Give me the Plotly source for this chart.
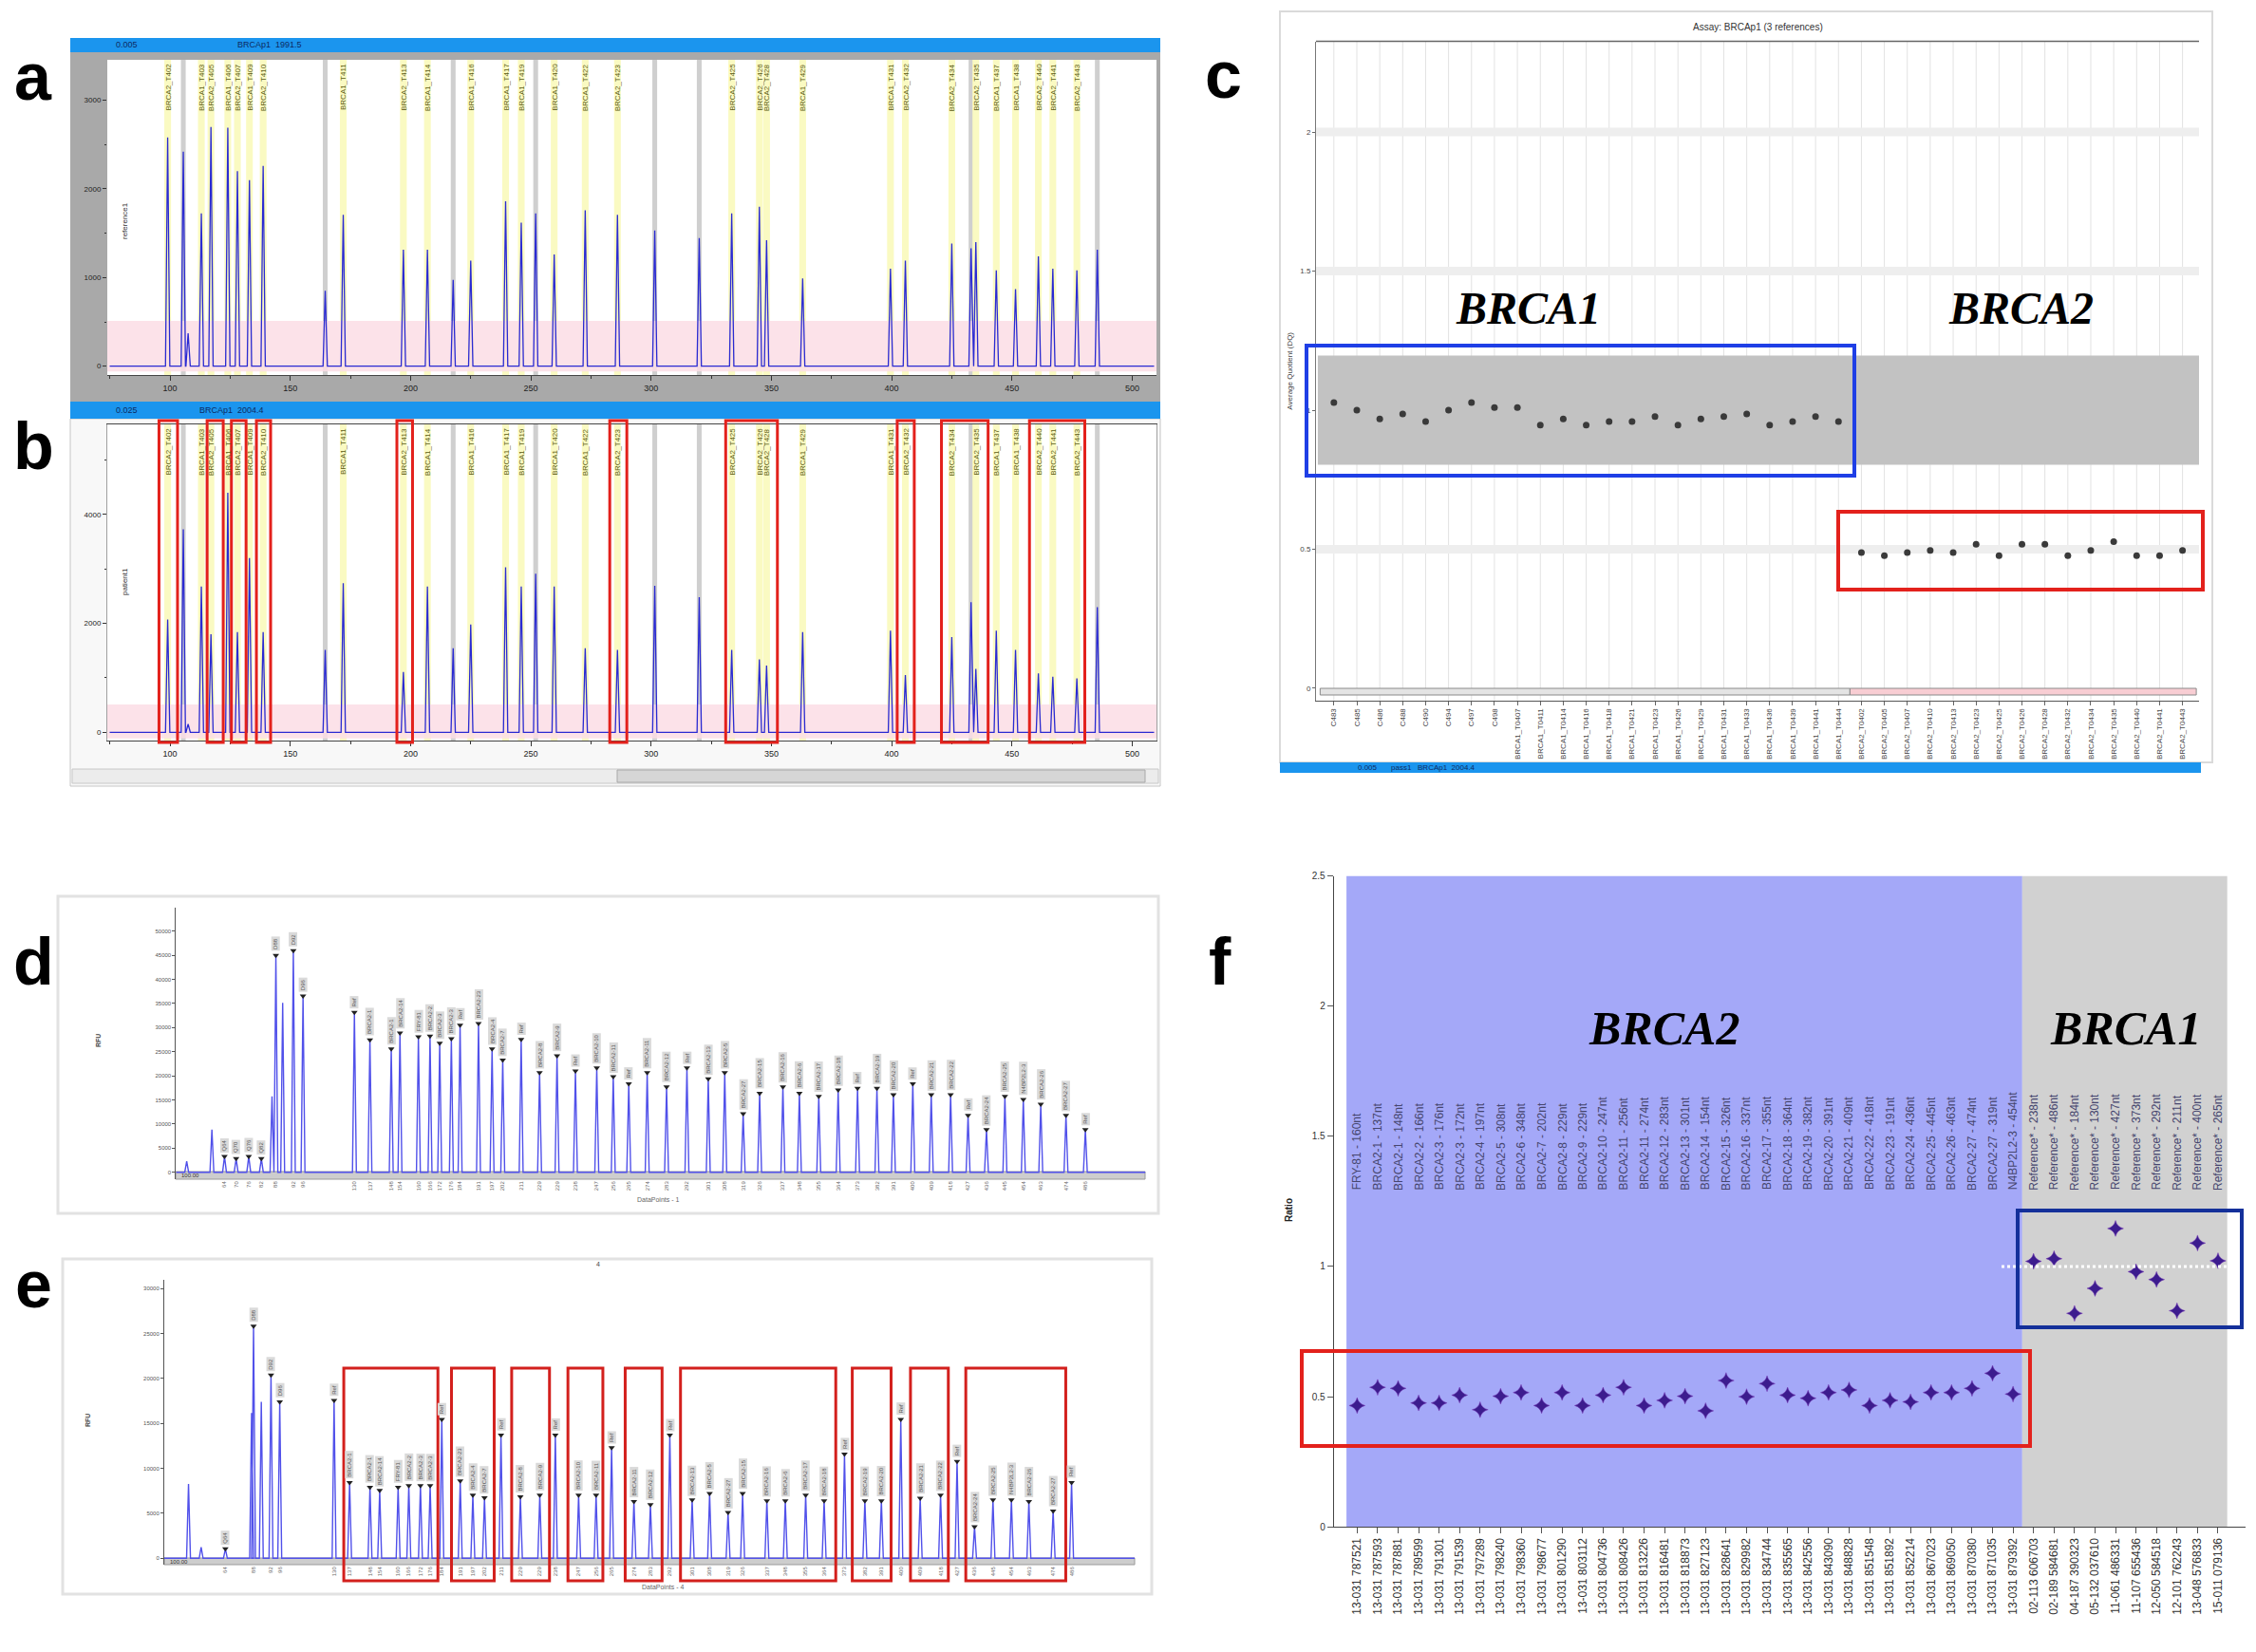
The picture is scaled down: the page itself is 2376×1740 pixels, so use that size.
import plotly.graph_objects as go

W, H = 2376, 1740
def PX(x): return x / W
def PY(y): return 1 - y / H

# ---------------- panels a / b : capillary fragment traces ----------------
AB_POS = [99.0, 105.5, 107.5, 113.0, 117.0, 124.0, 128.0, 133.0, 138.7, 164.5,
          172.0, 197.0, 207.0, 217.7, 225.0, 239.5, 246.0, 252.0, 259.7, 272.6,
          286.0, 301.5, 320.0, 333.5, 345.0, 348.0, 363.0, 399.5, 405.7, 425.0,
          433.0, 435.0, 443.5, 451.5, 461.0, 467.0, 477.0, 485.5]
A_HEIGHT = [2580, 2420, 370, 1725, 2700, 2690, 2200, 2100, 2260, 850,
            1707, 1314, 1314, 975, 1190, 1860, 1620, 1725, 1260, 1760,
            1707, 1530, 1446, 1725, 1800, 1420, 990, 1100, 1190, 1385,
            1330, 1400, 1080, 870, 1240, 1100, 1080, 1314]
B_HEIGHT = [2070, 3730, 150, 2680, 1800, 4400, 1840, 3200, 1840, 1515,
            2740, 1108, 2680, 1545, 1980, 3030, 2680, 2915, 2680, 1545,
            1515, 2690, 2480, 1515, 1340, 1225, 1840, 1865, 1050, 1750,
            2390, 1166, 1865, 1515, 1080, 1020, 990, 2300]
AB_KIND = ['bin', 'std', '', 'bin', 'bin', 'bin', 'bin', 'bin', 'bin', 'std',
           'bin', 'bin', 'bin', 'std', 'bin', 'bin', 'bin', 'std', 'bin', 'bin',
           'bin', 'std', 'std', 'bin', 'bin', 'bin', 'bin', 'bin', 'bin', 'bin',
           'std', 'bin', 'bin', 'bin', 'bin', 'bin', 'bin', 'std']
AB_LABEL = ["BRCA2_T402", "", "", "BRCA1_T403", "BRCA2_T405", "BRCA1_T406", "BRCA2_T407", "BRCA1_T409", "BRCA2_T410", "",
            "BRCA1_T411", "BRCA2_T413", "BRCA1_T414", "", "BRCA1_T416", "BRCA1_T417", "BRCA1_T419", "", "BRCA1_T420", "BRCA1_T422",
            "BRCA2_T423", "", "", "BRCA2_T425", "BRCA2_T426", "BRCA2_T428", "BRCA1_T429", "BRCA1_T431", "BRCA2_T432", "BRCA2_T434",
            "", "BRCA2_T435", "BRCA1_T437", "BRCA1_T438", "BRCA2_T440", "BRCA2_T441", "BRCA2_T443", ""]
B_BOX_LO = [95.4, 115.4, 125.5, 135.9, 194.3, 282.8, 331.0, 402.3, 420.7, 457.3]
B_BOX_HI = [103.1, 122.1, 131.6, 141.8, 200.8, 289.9, 352.5, 409.4, 440.1, 480.3]

# ---------------- panel c : dosage quotients ----------------
C_LABELS = ["C483", "C485", "C486", "C488", "C490", "C494", "C497", "C498",
            "BRCA1_T0407", "BRCA1_T0411", "BRCA1_T0414", "BRCA1_T0416", "BRCA1_T0418",
            "BRCA1_T0421", "BRCA1_T0423", "BRCA1_T0426", "BRCA1_T0429", "BRCA1_T0431",
            "BRCA1_T0433", "BRCA1_T0436", "BRCA1_T0439", "BRCA1_T0441", "BRCA1_T0444",
            "BRCA2_T0402", "BRCA2_T0405", "BRCA2_T0407", "BRCA2_T0410", "BRCA2_T0413",
            "BRCA2_T0423", "BRCA2_T0425", "BRCA2_T0426", "BRCA2_T0428", "BRCA2_T0432",
            "BRCA2_T0434", "BRCA2_T0435", "BRCA2_T0440", "BRCA2_T0441", "BRCA2_T0443"]
C_BRCA1 = [1.027, 1.0, 0.968, 0.986, 0.959, 1.0, 1.027, 1.009, 1.009, 0.946, 0.968, 0.946,
           0.959, 0.959, 0.977, 0.946, 0.968, 0.977, 0.986, 0.946, 0.959, 0.977, 0.959]
C_BRCA2 = [0.488, 0.477, 0.488, 0.496, 0.488, 0.518, 0.477, 0.518, 0.518, 0.477,
           0.496, 0.527, 0.477, 0.477, 0.496]

# ---------------- panels d / e : MLPA electropherograms ----------------
PROBE_SIZE = [130, 137, 148, 154, 160, 166, 172, 176, 184, 191, 197, 202, 211, 229, 229,
              238, 247, 256, 265, 274, 283, 292, 301, 308, 319, 326, 337, 348, 355, 364,
              373, 382, 391, 400, 409, 418, 427, 436, 445, 454, 463, 474, 486]
PROBE_NAME = ["Ref", "BRCA2-1", "BRCA2-1", "BRCA2-14", "FRY-81", "BRCA2-2", "BRCA2-3", "BRCA2-3",
              "Ref", "BRCA2-23", "BRCA2-4", "BRCA2-7", "Ref", "BRCA2-8", "BRCA2-9", "Ref",
              "BRCA2-10", "BRCA2-11", "Ref", "BRCA2-11", "BRCA2-12", "Ref", "BRCA2-13", "BRCA2-5",
              "BRCA2-27", "BRCA2-15", "BRCA2-16", "BRCA2-6", "BRCA2-17", "BRCA2-18", "Ref",
              "BRCA2-19", "BRCA2-20", "Ref", "BRCA2-21", "BRCA2-22", "Ref", "BRCA2-24",
              "BRCA2-25", "N4BP2L2-3", "BRCA2-26", "BRCA2-27", "Ref"]

D_CTRL_POS = [11, 37, 50, 62, 75, 88, 99, 103, 110, 121, 131]
D_CTRL_H = [2300, 8860, 3280, 2820, 3280, 2820, 15750, 44950, 35100, 45930, 36550]
D_CTRL_NAME = ["", "", "Q64", "Q70", "Q76", "Q82", "", "D88", "", "D92", "D96"]
D_CTRL_TICK = ["", "", "64", "70", "76", "82", "", "88", "", "92", "96"]
D_PROBE_POS = [184, 200, 222, 231, 250, 262, 272, 284, 293, 312, 326, 337, 356, 375, 393,
               412, 434, 451, 467, 486, 506, 527, 549, 566, 585, 602, 626, 643, 663, 683,
               703, 723, 740, 760, 779, 799, 817, 836, 855, 874, 892, 918, 938]
D_PROBE_H = [33140, 27430, 25590, 28870, 28080, 28215, 26770, 27690, 30510, 30840, 25590,
             23290, 27560, 20670, 24150, 21000, 21650, 19815, 18370, 20670, 17720, 21650,
             19360, 20670, 12140, 16400, 17720, 16400, 15750, 17060, 17390, 17390, 16080,
             18370, 16080, 16080, 11810, 8860, 15750, 15090, 14110, 11810, 8860]

E_CTRL_POS = [25, 38, 63, 90, 92, 100, 110, 119]
E_CTRL_H = [8258, 1230, 1054, 16164, 25828, 17394, 20381, 17394]
E_CTRL_NAME = ["", "", "Q64", "", "D88", "", "D92", "D96"]
E_CTRL_TICK = ["", "", "64", "", "88", "", "92", "96"]
E_PROBE_POS = [175, 191, 212, 222, 241, 252, 264, 274, 286, 305, 318, 330, 347, 367, 387,
               403, 427, 445, 461, 484, 501, 521, 544, 562, 581, 596, 621, 640, 661, 680,
               701, 722, 739, 759, 779, 800, 817, 835, 854, 873, 891, 916, 935]
E_PROBE_H = [17570, 8434, 7907, 7555, 7907, 8082, 8082, 8082, 15462, 8609, 7028, 6747, 13705,
             6852, 7028, 13705, 7028, 7028, 12299, 6325, 5974, 13705, 6501, 7204, 5095, 7204,
             6395, 6395, 7028, 6395, 11596, 6395, 6395, 15462, 6677, 7028, 10788, 3514, 6501,
             6501, 6325, 5271, 8434]
E_BOX_LO = [185, 296, 358, 416, 475, 532, 709, 769, 826]
E_BOX_HI = [282, 340, 397, 452, 513, 692, 749, 808, 929]

# ---------------- panel f : probe ratios ----------------
F_PROBES = ["FRY-81 - 160nt", "BRCA2-1 - 137nt", "BRCA2-1 - 148nt", "BRCA2-2 - 166nt",
            "BRCA2-3 - 176nt", "BRCA2-3 - 172nt", "BRCA2-4 - 197nt", "BRCA2-5 - 308nt",
            "BRCA2-6 - 348nt", "BRCA2-7 - 202nt", "BRCA2-8 - 229nt", "BRCA2-9 - 229nt",
            "BRCA2-10 - 247nt", "BRCA2-11 - 256nt", "BRCA2-11 - 274nt", "BRCA2-12 - 283nt",
            "BRCA2-13 - 301nt", "BRCA2-14 - 154nt", "BRCA2-15 - 326nt", "BRCA2-16 - 337nt",
            "BRCA2-17 - 355nt", "BRCA2-18 - 364nt", "BRCA2-19 - 382nt", "BRCA2-20 - 391nt",
            "BRCA2-21 - 409nt", "BRCA2-22 - 418nt", "BRCA2-23 - 191nt", "BRCA2-24 - 436nt",
            "BRCA2-25 - 445nt", "BRCA2-26 - 463nt", "BRCA2-27 - 474nt", "BRCA2-27 - 319nt",
            "N4BP2L2-3 - 454nt", "Reference* - 238nt", "Reference* - 486nt",
            "Reference* - 184nt", "Reference* - 130nt", "Reference* - 427nt",
            "Reference* - 373nt", "Reference* - 292nt", "Reference* - 211nt",
            "Reference* - 400nt", "Reference* - 265nt"]
F_SAMPLES = ["13-031 787521", "13-031 787593", "13-031 787881", "13-031 789599", "13-031 791301",
             "13-031 791539", "13-031 797289", "13-031 798240", "13-031 798360", "13-031 798677",
             "13-031 801290", "13-031 803112", "13-031 804736", "13-031 808426", "13-031 813226",
             "13-031 816481", "13-031 818873", "13-031 827123", "13-031 828641", "13-031 829982",
             "13-031 834744", "13-031 835565", "13-031 842556", "13-031 843090", "13-031 848828",
             "13-031 851548", "13-031 851892", "13-031 852214", "13-031 867023", "13-031 869050",
             "13-031 870380", "13-031 871035", "13-031 879392", "02-113 606703", "02-189 584681",
             "04-187 390323", "05-132 037610", "11-061 486331", "11-107 655436", "12-050 584518",
             "12-101 762243", "13-048 576833", "15-011 079136"]
F_BRCA2 = [0.466, 0.536, 0.532, 0.476, 0.476, 0.506, 0.450, 0.502, 0.516, 0.466, 0.516,
           0.466, 0.506, 0.536, 0.466, 0.486, 0.502, 0.446, 0.562, 0.500, 0.550, 0.506,
           0.494, 0.516, 0.526, 0.466, 0.486, 0.480, 0.516, 0.516, 0.532, 0.590, 0.510]
F_BRCA1 = [1.02, 1.03, 0.82, 0.916, 1.146, 0.98, 0.95, 0.83, 1.09, 1.022]

# ======================================================================
shapes, ann, traces = [], [], []

def prect(x0, y0, x1, y1, fill=None, line=None, lw=0, layer='below'):
    shapes.append(dict(type='rect', xref='paper', yref='paper', layer=layer,
                       x0=PX(x0), x1=PX(x1), y0=PY(y1), y1=PY(y0),
                       fillcolor=fill or 'rgba(0,0,0,0)',
                       line=dict(color=line or 'rgba(0,0,0,0)', width=lw)))

def text(x, y, s, size=10, color='#222', xref='paper', yref='paper', angle=0,
         xanchor='center', yanchor='middle', family=None, bg=None, **kw):
    d = dict(x=x, y=y, xref=xref, yref=yref, text=s, showarrow=False, textangle=angle,
             xanchor=xanchor, yanchor=yanchor,
             font=dict(size=size, color=color, family=family or 'Liberation Sans'))
    if bg:
        d['bgcolor'] = bg
    d.update(kw)
    ann.append(d)

def peaks_xy(pos, hts, hw, xmin, xmax):
    xs, ys = [xmin], [0]
    for p, h in sorted(zip(pos, hts)):
        xs += [p - hw, p, p + hw]
        ys += [0, h, 0]
    xs.append(xmax)
    ys.append(0)
    return xs, ys

# ---------------- frames (paper) ----------------
# a
prect(66, 47, 1214, 417, fill='#a9a9a9')
prect(66, 32, 1214, 47, fill='#1b95ee')
prect(105, 55, 1210, 387, fill='white')
# b
prect(66, 433, 1214, 820, fill='#f8f8f8', line='#c6c6c6', lw=1)
prect(66, 415, 1214, 433, fill='#1b95ee')
prect(105, 439, 1210, 772, fill='white')
prect(68, 802, 1212, 817, fill='#ececec', line='#c8c8c8', lw=1)
prect(642, 803, 1198, 816, fill='#d6d6d6', line='#a8a8a8', lw=1)
# c
prect(1340, 4, 2322, 795, line='#dadada', lw=2)
prect(1340, 795, 2310, 806, fill='#1b95ee')
# d, e
prect(53, 936, 1212, 1270, fill='white', line='#e2e2e2', lw=3)
prect(58, 1318, 1205, 1671, fill='white', line='#e2e2e2', lw=3)
prect(177, 1226, 1198, 1234, fill='#cdcdcd', line='#9a9a9a', lw=1)
prect(165, 1633, 1187, 1640, fill='#cdcdcd', line='#9a9a9a', lw=1)

# ---------------- panels a / b ----------------
AB_X0, AB_X1 = 73.9, 510.1
for xa, ya, hts, yr, lab_y in (('x', 'y', A_HEIGHT, (-100, 3457), 57),
                               ('x2', 'y2', B_HEIGHT, (-152, 5657), 441)):
    for p, k in zip(AB_POS, AB_KIND):
        if k == 'bin':
            shapes.append(dict(type='rect', xref=xa, yref=ya, layer='below', x0=p - 1.4, x1=p + 1.4,
                               y0=yr[0], y1=yr[1], fillcolor='#fafac2', line=dict(width=0)))
        elif k == 'std':
            shapes.append(dict(type='rect', xref=xa, yref=ya, layer='below', x0=p - 1.0, x1=p + 1.0,
                               y0=yr[0], y1=yr[1], fillcolor='#cfcfcf', line=dict(width=0)))
    shapes.append(dict(type='rect', xref=xa, yref=ya, layer='below', x0=AB_X0, x1=AB_X1,
                       y0=yr[0] + 40, y1=510, fillcolor='#fcdde5', opacity=0.85, line=dict(width=0)))
    for p, s in zip(AB_POS, AB_LABEL):
        if s:
            text(p, PY(lab_y), s, size=8, color='#5c5c12', xref=xa, yref='paper',
                 angle=-90, yanchor='top')
    xs, ys = peaks_xy(AB_POS, hts, 0.9, AB_X0 + 1, AB_X1 - 1)
    traces.append(go.Scatter(x=xs, y=ys, xaxis=xa, yaxis=ya, mode='lines',
                             line=dict(color='#2a2ad2', width=1.3), hoverinfo='skip'))

for lo, hi in zip(B_BOX_LO, B_BOX_HI):
    shapes.append(dict(type='rect', xref='x2', yref='paper', layer='above', x0=lo, x1=hi,
                       y0=PY(774), y1=PY(435), line=dict(color='#e3211c', width=3)))

text(PX(112), PY(39.5), '0.005', size=9, color='#0d2b63', xanchor='left')
text(PX(240), PY(39.5), 'BRCAp1  1991.5', size=9, color='#0d2b63', xanchor='left')
text(PX(112), PY(424), '0.025', size=9, color='#0d2b63', xanchor='left')
text(PX(200), PY(424), 'BRCAp1  2004.4', size=9, color='#0d2b63', xanchor='left')
text(PX(124), PY(225), 'reference1', size=8, color='#333', angle=-90)
text(PX(124), PY(605), 'patient1', size=8, color='#333', angle=-90)

# ---------------- panel c ----------------
C_VALS = C_BRCA1 + C_BRCA2
for i in range(len(C_LABELS)):
    shapes.append(dict(type='line', xref='x3', yref='y3', layer='below', x0=i, x1=i,
                       y0=-0.05, y1=2.4, line=dict(color='#e2e2e2', width=1)))
for yv in (2.0, 1.5, 0.5):
    shapes.append(dict(type='line', xref='x3', yref='y3', layer='below', x0=-0.78, x1=37.72,
                       y0=yv, y1=yv, line=dict(color='#eeeeee', width=9)))
shapes.append(dict(type='rect', xref='x3', yref='y3', layer='below', x0=-0.7, x1=37.72,
                   y0=0.804, y1=1.196, fillcolor='#c2c2c2', line=dict(width=0)))
shapes.append(dict(type='rect', xref='x3', yref='paper', layer='above', x0=-0.6, x1=len(C_BRCA1) - 0.5,
                   y0=PY(724), y1=PY(717), fillcolor='#e4e4e4', line=dict(color='#8a8a8a', width=1)))
shapes.append(dict(type='rect', xref='x3', yref='paper', layer='above', x0=len(C_BRCA1) - 0.5, x1=37.6,
                   y0=PY(724), y1=PY(717), fillcolor='#f8cdd3', line=dict(color='#8a8a8a', width=1)))
shapes.append(dict(type='line', xref='paper', yref='paper', x0=PX(1378), x1=PX(2308),
                   y0=PY(35.6), y1=PY(35.6), line=dict(color='#666', width=1.5)))
traces.append(go.Scatter(x=list(range(len(C_VALS))), y=C_VALS, xaxis='x3', yaxis='y3', mode='markers',
                         marker=dict(size=7, color='#3a3a3a'), hoverinfo='skip'))
prect(1368, 356, 1945, 493, line='#1f3fe6', lw=4, layer='above')
prect(1928, 531, 2312, 613, line='#e3211c', lw=4, layer='above')
text(PX(1843), PY(21), 'Assay: BRCAp1 (3 references)', size=10, color='#333')
text(PX(1601), PY(316), '<b><i>BRCA1</i></b>', size=48, color='black', family='Liberation Serif')
text(PX(2120), PY(316), '<b><i>BRCA2</i></b>', size=48, color='black', family='Liberation Serif')
text(PX(1420), PY(800.5), '0.005', size=8, color='#0d2b63', xanchor='left')
text(PX(1455), PY(800.5), 'pass1   BRCAp1  2004.4', size=8, color='#0d2b63', xanchor='left')

# ---------------- panels d / e ----------------
D_POS = D_CTRL_POS + D_PROBE_POS
D_H = D_CTRL_H + D_PROBE_H
D_NAME = D_CTRL_NAME + PROBE_NAME
D_TICK = D_CTRL_TICK + [str(s) for s in PROBE_SIZE]
E_POS = E_CTRL_POS + E_PROBE_POS
E_H = E_CTRL_H + E_PROBE_H
E_NAME = E_CTRL_NAME + PROBE_NAME
E_TICK = E_CTRL_TICK + [str(s) for s in PROBE_SIZE]

for xa, ya, pos, hts, names in (('x4', 'y4', D_POS, D_H, D_NAME), ('x5', 'y5', E_POS, E_H, E_NAME)):
    xs, ys = peaks_xy(pos, hts, 2.0, 0, 1000)
    traces.append(go.Scatter(x=xs, y=ys, xaxis=xa, yaxis=ya, mode='lines',
                             line=dict(color='#5151ea', width=1.4), hoverinfo='skip'))
    lx = [p for p, n in zip(pos, names) if n]
    ly = [h for h, n in zip(hts, names) if n]
    traces.append(go.Scatter(x=lx, y=ly, xaxis=xa, yaxis=ya, mode='markers',
                             marker=dict(symbol='triangle-down', size=6, color='#222'), hoverinfo='skip'))
    for p, h, n in zip(pos, hts, names):
        if n:
            text(p, h, n, size=6, color='#555', xref=xa, yref=ya, angle=-90, yanchor='bottom',
                 bg='#dadada', yshift=4, borderpad=1)

for lo, hi in zip(E_BOX_LO, E_BOX_HI):
    shapes.append(dict(type='rect', xref='x5', yref='paper', layer='above', x0=lo, x1=hi,
                       y0=PY(1657), y1=PY(1433), line=dict(color='#d3201d', width=3)))

text(PX(95), PY(1088), '<b>RFU</b>', size=7, color='#444', angle=-90)
text(PX(84), PY(1488), '<b>RFU</b>', size=7, color='#444', angle=-90)
text(PX(685), PY(1255), 'DataPoints - 1', size=7, color='#666')
text(PX(690), PY(1663), 'DataPoints - 4', size=7, color='#666')
text(PX(181), PY(1230), '100.00', size=6, color='#333', xanchor='left')
text(PX(169), PY(1636.5), '100.00', size=6, color='#333', xanchor='left')
text(PX(622), PY(1323), '4', size=7, color='#444')

# ---------------- panel f ----------------
F_VALS = F_BRCA2 + F_BRCA1
NB2 = len(F_BRCA2)
shapes.append(dict(type='rect', xref='x6', yref='y6', layer='below', x0=-0.52, x1=NB2 - 0.55,
                   y0=0, y1=2.5, fillcolor='#a4a8f8', line=dict(width=0)))
shapes.append(dict(type='rect', xref='x6', yref='y6', layer='below', x0=NB2 - 0.55, x1=len(F_VALS) - 0.55,
                   y0=0, y1=2.5, fillcolor='#d1d1d1', line=dict(width=0)))
shapes.append(dict(type='line', xref='paper', yref='y6', layer='above', x0=PX(2100), x1=PX(2360),
                   y0=1, y1=1, line=dict(color='white', width=3, dash='dot')))
for i, s in enumerate(F_PROBES):
    text(i, 1.286, s, size=12, color='#46466e', xref='x6', yref='y6', angle=-90, yanchor='bottom')
traces.append(go.Scatter(x=list(range(len(F_VALS))), y=F_VALS, xaxis='x6', yaxis='y6', mode='markers',
                         marker=dict(symbol='star-diamond', size=12, color='#3c1c8e',
                                     line=dict(color='#7a3fb8', width=0.5)), hoverinfo='skip'))
prect(1363, 1415, 2130, 1515, line='#e3211c', lw=4, layer='above')
prect(2117, 1267, 2353, 1390, line='#14309a', lw=4, layer='above')
text(PX(1744), PY(1075), '<b><i>BRCA2</i></b>', size=50, color='black', family='Liberation Serif')
text(PX(2230), PY(1075), '<b><i>BRCA1</i></b>', size=50, color='black', family='Liberation Serif')
text(PX(1349), PY(1267), '<b>Ratio</b>', size=10, color='#222', angle=-90)

# ---------------- panel letters ----------------
for s, x, y in (('a', 27, 73), ('b', 27, 462), ('c', 1280, 71), ('d', 27, 1005),
                ('e', 27, 1345), ('f', 1277, 1005)):
    text(PX(x), PY(y), '<b>%s</b>' % s, size=70, color='black')

# ---------------- axes ----------------
off = dict(showgrid=False, zeroline=False, automargin=False)
ab_x = dict(range=[AB_X0, AB_X1], tickmode='linear', tick0=100, dtick=50, ticks='outside',
            ticklen=5, tickcolor='#333', showline=True, linecolor='#444',
            tickfont=dict(size=9, color='#222'),
            minor=dict(dtick=25, ticks='outside', ticklen=3, tickcolor='#333'), **off)

layout = dict(
    width=W, height=H, margin=dict(l=0, r=0, t=0, b=0),
    paper_bgcolor='white', plot_bgcolor='rgba(0,0,0,0)', showlegend=False,
    font=dict(family='Liberation Sans', color='#222'),
    xaxis=dict(domain=[PX(105), PX(1210)], anchor='y', **ab_x),
    yaxis=dict(domain=[PY(387), PY(55)], anchor='x', range=[-100, 3457], tickmode='linear', tick0=0,
               dtick=1000, ticks='outside', ticklen=4, tickcolor='#333', tickfont=dict(size=8),
               tickformat='d',
               minor=dict(dtick=500, ticks='outside', ticklen=2, tickcolor='#333'), showline=False, **off),
    xaxis2=dict(domain=[PX(105), PX(1210)], anchor='y2', mirror=True, **ab_x),
    yaxis2=dict(domain=[PY(772), PY(439)], anchor='x2', range=[-152, 5657], tickmode='linear', tick0=0,
                dtick=2000, ticks='outside', ticklen=4, tickcolor='#333', tickfont=dict(size=8),
                tickformat='d',
                minor=dict(dtick=1000, ticks='outside', ticklen=2, tickcolor='#333'),
                showline=True, mirror=True, linecolor='#a0a0a0', **off),
    xaxis3=dict(domain=[PX(1378), PX(2308)], anchor='y3', range=[-0.78, 37.72], tickmode='array',
                tickvals=list(range(len(C_LABELS))), ticktext=C_LABELS, tickangle=-90,
                tickfont=dict(size=8, color='#444'), ticks='outside', ticklen=4, tickcolor='#666',
                showline=True, linecolor='#555', **off),
    yaxis3=dict(domain=[PY(730), PY(35.6)], anchor='x3', range=[-0.0444, 2.3256], tickmode='array',
                tickvals=[0, 0.5, 1, 1.5, 2], ticktext=['0', '0.5', '1', '1.5', '2'],
                tickfont=dict(size=8, color='#444'), ticks='outside', ticklen=3, tickcolor='#666',
                showline=True, linecolor='#777',
                title=dict(text='Average Quotient (DQ)', font=dict(size=8, color='#444'), standoff=6), **off),
    xaxis4=dict(domain=[PX(177.4), PX(1198.4)], anchor='y4', range=[0, 1000], tickmode='array',
                tickvals=[p for p, t in zip(D_POS, D_TICK) if t], ticktext=[t for t in D_TICK if t],
                tickangle=-90, tickfont=dict(size=6, color='#666'), ticks='', showline=False, **off),
    yaxis4=dict(domain=[PY(1234), PY(948)], anchor='x4', range=[-1437, 54860], tickmode='linear', tick0=0,
                dtick=5000, tickformat='d', ticks='outside', ticklen=3, tickcolor='#555',
                tickfont=dict(size=6, color='#555'), showline=True, linecolor='#555', **off),
    xaxis5=dict(domain=[PX(165), PX(1187)], anchor='y5', range=[0, 1000], tickmode='array',
                tickvals=[p for p, t in zip(E_POS, E_TICK) if t], ticktext=[t for t in E_TICK if t],
                tickangle=-90, tickfont=dict(size=6, color='#666'), ticks='', showline=False, **off),
    yaxis5=dict(domain=[PY(1640), PY(1340)], anchor='x5', range=[-708, 30980], tickmode='linear', tick0=0,
                dtick=5000, tickformat='d', ticks='outside', ticklen=3, tickcolor='#555',
                tickfont=dict(size=6, color='#555'), showline=True, linecolor='#555', **off),
    xaxis6=dict(domain=[PX(1396.7), PX(2356.7)], anchor='y6', range=[-1.14, 43.33], tickmode='array',
                tickvals=list(range(len(F_SAMPLES))), ticktext=F_SAMPLES, tickangle=-90,
                tickfont=dict(size=12, color='#333'), ticks='outside', ticklen=6, tickcolor='#555',
                showline=True, linecolor='#444', **off),
    yaxis6=dict(domain=[PY(1600.2), PY(914.6)], anchor='x6', range=[0, 2.5], tickmode='array',
                tickvals=[0, 0.5, 1, 1.5, 2, 2.5], ticktext=['0', '0.5', '1', '1.5', '2', '2.5'],
                tickfont=dict(size=10, color='#333'), ticks='outside', ticklen=6, tickcolor='#555',
                showline=True, linecolor='#444', **off),
    shapes=shapes, annotations=ann,
)

fig = go.Figure(data=traces, layout=layout)
fig.update_layout(template='none')
fig.write_html("out.html", config={'displayModeBar': False})
